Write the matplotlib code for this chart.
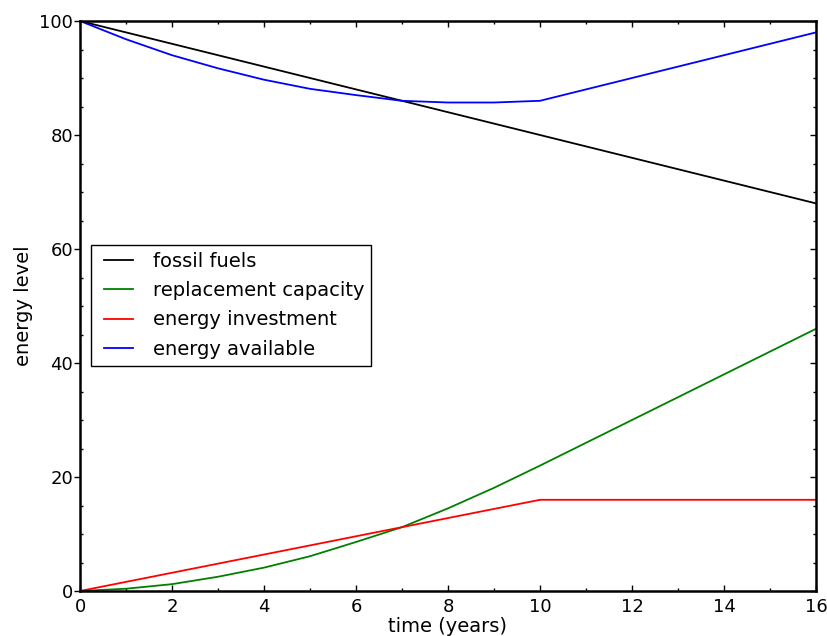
import matplotlib
matplotlib.use("Agg")
import matplotlib.pyplot as plt
from matplotlib.ticker import MultipleLocator
from matplotlib.lines import Line2D
from matplotlib.legend_handler import HandlerLine2D

years = [0, 1, 2, 3, 4, 5, 6, 7, 8, 9, 10, 11, 12, 13, 14, 15, 16]
fossil_fuels = [100, 98, 96, 94, 92, 90, 88, 86, 84, 82, 80, 78, 76, 74, 72, 70, 68]
replacement_capacity = [0, 0.4, 1.2, 2.5, 4.1, 6.1, 8.6, 11.2, 14.5, 18.1, 22, 26, 30, 34, 38, 42, 46]
energy_investment = [0, 1.6, 3.2, 4.8, 6.4, 8.0, 9.6, 11.2, 12.8, 14.4, 16, 16, 16, 16, 16, 16, 16]
energy_available = [100, 96.8, 94.0, 91.7, 89.7, 88.1, 87.0, 86.0, 85.7, 85.7, 86, 88, 90, 92, 94, 96, 98]

fig = plt.figure(figsize=(8.27, 6.36), dpi=100)
ax = fig.add_axes([80/827, 45/636, 736/827, 570/636])

lw = 1.3
ax.plot(years, fossil_fuels, color='k', lw=lw, label='fossil fuels')
ax.plot(years, replacement_capacity, color=(0, 0.5, 0), lw=lw, label='replacement capacity')
ax.plot(years, energy_investment, color=(1, 0, 0), lw=lw, label='energy investment')
ax.plot(years, energy_available, color=(0, 0, 1), lw=lw, label='energy available')

ax.set_xlim(0, 16)
ax.set_ylim(0, 100)
ax.xaxis.set_major_locator(MultipleLocator(2))
ax.xaxis.set_minor_locator(MultipleLocator(1))
ax.yaxis.set_major_locator(MultipleLocator(20))
ax.yaxis.set_minor_locator(MultipleLocator(5))
ax.tick_params(axis='x', which='both', direction='in', top=True, labelsize=13, pad=5)
ax.tick_params(axis='x', which='major', length=4.0, width=1)
ax.tick_params(axis='x', which='minor', length=2.2, width=1)
ax.tick_params(axis='y', which='major', direction='out', length=4.3, width=1,
               right=False, labelsize=13, pad=0.8)
ax.tick_params(axis='y', which='minor', direction='in', length=2.0, width=1, right=True)
for s in ax.spines.values():
    s.set_linewidth(1.8)

# right-hand ticks pointing inward
ax2 = ax.twinx()
ax2.set_ylim(0, 100)
ax2.yaxis.set_major_locator(MultipleLocator(20))
ax2.yaxis.set_minor_locator(MultipleLocator(5))
ax2.tick_params(axis='y', which='major', direction='in', length=4.3, width=1, labelright=False)
ax2.tick_params(axis='y', which='minor', direction='in', length=2.0, width=1)
for s in ax2.spines.values():
    s.set_visible(False)

ax.set_xlabel('time (years)', fontsize=14, labelpad=1)
ax.set_ylabel('energy level', fontsize=14, labelpad=4.5)

leg = ax.legend(loc='upper left', bbox_to_anchor=(0.015, 0.607), borderaxespad=0,
                fontsize=14, fancybox=False, frameon=True, handlelength=1.81,
                handletextpad=1.03, labelspacing=0.53, borderpad=0.35,
                handler_map={Line2D: HandlerLine2D(xpad=0.32)})
leg.get_frame().set_edgecolor('k')
leg.get_frame().set_linewidth(1.0)
leg.get_frame().set_alpha(1)

fig.savefig('out.png', dpi=100)
